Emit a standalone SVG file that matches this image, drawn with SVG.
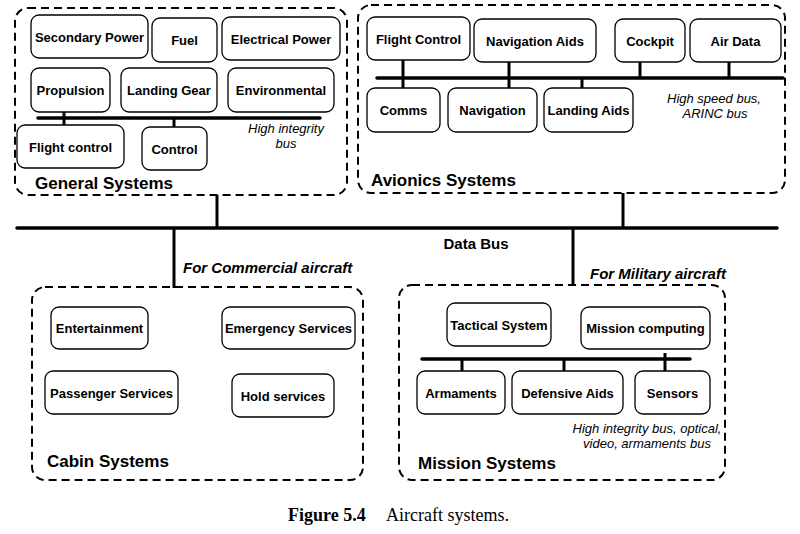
<svg xmlns="http://www.w3.org/2000/svg" width="800" height="534" viewBox="0 0 800 534">
<style>
.panel{fill:none;stroke:#000;stroke-width:2;stroke-dasharray:8 5}
.box{fill:#fff;stroke:#000;stroke-width:1.3}
.lbl{font-family:"Liberation Sans",Arial,sans-serif;font-weight:bold;font-size:13px;text-anchor:middle;fill:#000}
.ttl{font-family:"Liberation Sans",Arial,sans-serif;font-weight:bold;font-size:17px;fill:#000}
.it{font-family:"Liberation Sans",Arial,sans-serif;font-style:italic;font-size:13px;text-anchor:middle;fill:#000}
.bi{font-family:"Liberation Sans",Arial,sans-serif;font-style:italic;font-weight:bold;font-size:15px;fill:#000}
.bus{stroke:#000;stroke-width:3.5;fill:none;stroke-linecap:round}
.stub{stroke:#000;stroke-width:3;fill:none}
</style>
<rect width="800" height="534" fill="#fff"/>

<g id="connectors">
  <line class="bus" x1="17" y1="228" x2="777" y2="228"/>
  <line class="stub" x1="217" y1="195" x2="217" y2="228"/>
  <line class="stub" x1="623" y1="193" x2="623" y2="228"/>
  <line class="stub" x1="174" y1="228" x2="174" y2="288"/>
  <line class="stub" x1="573" y1="228" x2="573" y2="286"/>
  <!-- general bus -->
  <line class="bus" x1="38" y1="118" x2="320" y2="118" stroke-width="3"/>
  <line class="stub" x1="64" y1="112" x2="64" y2="126"/>
  <line class="stub" x1="174" y1="118" x2="174" y2="127"/>
  <!-- avionics bus -->
  <line class="bus" x1="377" y1="78" x2="783" y2="78" stroke-width="3"/>
  <line class="stub" x1="403" y1="60" x2="403" y2="88"/>
  <line class="stub" x1="509" y1="62" x2="509" y2="89"/>
  <line class="stub" x1="582" y1="78" x2="582" y2="88"/>
  <line class="stub" x1="640" y1="62" x2="640" y2="78"/>
  <line class="stub" x1="729" y1="62" x2="729" y2="78"/>
  <!-- mission bus -->
  <line class="bus" x1="422" y1="359" x2="690" y2="359" stroke-width="3"/>
  <line class="stub" x1="462" y1="359" x2="462" y2="371"/>
  <line class="stub" x1="564" y1="359" x2="564" y2="371"/>
  <line class="stub" x1="665" y1="353" x2="665" y2="371"/>
</g>

<g id="general-systems">
  <rect class="panel" x="15" y="8" width="332" height="187" rx="13"/>
  <text class="ttl" x="35" y="189">General Systems</text>
  <text class="it" x="286" y="133">High integrity</text>
  <text class="it" x="286" y="148">bus</text>
</g>
<g id="secondary-power"><rect class="box" x="31" y="15" width="117" height="43" rx="8"/><text class="lbl" x="89.5" y="41.5">Secondary Power</text></g>
<g id="fuel"><rect class="box" x="152" y="18" width="65" height="44" rx="8"/><text class="lbl" x="184.5" y="44.5">Fuel</text></g>
<g id="electrical-power"><rect class="box" x="222" y="17" width="118" height="43" rx="8"/><text class="lbl" x="281" y="43.5">Electrical Power</text></g>
<g id="propulsion"><rect class="box" x="31" y="68" width="79" height="44" rx="8"/><text class="lbl" x="70.5" y="94.5">Propulsion</text></g>
<g id="landing-gear"><rect class="box" x="121" y="68" width="96" height="44" rx="8"/><text class="lbl" x="169" y="94.5">Landing Gear</text></g>
<g id="environmental"><rect class="box" x="228" y="68" width="106" height="44" rx="8"/><text class="lbl" x="281" y="94.5">Environmental</text></g>
<g id="flight-control-gen"><rect class="box" x="17" y="125" width="107" height="43" rx="8"/><text class="lbl" x="70.5" y="151.5">Flight control</text></g>
<g id="control"><rect class="box" x="142" y="127" width="65" height="43" rx="8"/><text class="lbl" x="174.5" y="153.5">Control</text></g>

<g id="avionics-systems">
  <rect class="panel" x="358" y="5" width="427" height="188" rx="13"/>
  <text class="ttl" x="371" y="186">Avionics Systems</text>
  <text class="it" x="714" y="103">High speed bus,</text>
  <text class="it" x="715" y="118">ARINC bus</text>
</g>
<g id="flight-control-av"><rect class="box" x="367" y="17" width="103" height="43" rx="8"/><text class="lbl" x="418.5" y="43.5">Flight Control</text></g>
<g id="navigation-aids"><rect class="box" x="474" y="19" width="122" height="43" rx="8"/><text class="lbl" x="535" y="45.5">Navigation Aids</text></g>
<g id="cockpit"><rect class="box" x="615" y="19" width="70" height="43" rx="8"/><text class="lbl" x="650" y="45.5">Cockpit</text></g>
<g id="air-data"><rect class="box" x="690" y="19" width="91" height="43" rx="8"/><text class="lbl" x="735.5" y="45.5">Air Data</text></g>
<g id="comms"><rect class="box" x="367" y="88" width="73" height="44" rx="8"/><text class="lbl" x="403.5" y="114.5">Comms</text></g>
<g id="navigation"><rect class="box" x="448" y="88" width="89" height="44" rx="8"/><text class="lbl" x="492.5" y="114.5">Navigation</text></g>
<g id="landing-aids"><rect class="box" x="544" y="88" width="89" height="44" rx="8"/><text class="lbl" x="588.5" y="114.5">Landing Aids</text></g>

<g id="data-bus-labels">
  <text class="lbl" x="476" y="249" font-size="15" style="font-size:15px">Data Bus</text>
  <text class="bi" x="183" y="273">For Commercial aircraft</text>
  <text class="bi" x="590" y="279">For Military aircraft</text>
</g>

<g id="cabin-systems">
  <rect class="panel" x="32" y="287" width="331" height="193" rx="13"/>
  <text class="ttl" x="47" y="467">Cabin Systems</text>
</g>
<g id="entertainment"><rect class="box" x="51" y="307" width="97" height="42" rx="8"/><text class="lbl" x="99.5" y="332.5">Entertainment</text></g>
<g id="emergency-services"><rect class="box" x="222" y="307" width="133" height="42" rx="8"/><text class="lbl" x="288.5" y="332.5">Emergency Services</text></g>
<g id="passenger-services"><rect class="box" x="45" y="371" width="133" height="43" rx="8"/><text class="lbl" x="111.5" y="397.5">Passenger Services</text></g>
<g id="hold-services"><rect class="box" x="232" y="374" width="102" height="43" rx="8"/><text class="lbl" x="283" y="400.5">Hold services</text></g>

<g id="mission-systems">
  <rect class="panel" x="399" y="285" width="326" height="195" rx="13"/>
  <text class="ttl" x="418" y="469">Mission Systems</text>
  <text class="it" x="647" y="433">High integrity bus, optical,</text>
  <text class="it" x="647" y="448">video, armaments bus</text>
</g>
<g id="tactical-system"><rect class="box" x="447" y="303" width="104" height="43" rx="8"/><text class="lbl" x="499" y="329.5">Tactical System</text></g>
<g id="mission-computing"><rect class="box" x="581" y="307" width="129" height="42" rx="8"/><text class="lbl" x="645.5" y="332.5">Mission computing</text></g>
<g id="armaments"><rect class="box" x="417" y="371" width="88" height="43" rx="8"/><text class="lbl" x="461" y="397.5">Armaments</text></g>
<g id="defensive-aids"><rect class="box" x="512" y="371" width="111" height="43" rx="8"/><text class="lbl" x="567.5" y="397.5">Defensive Aids</text></g>
<g id="sensors"><rect class="box" x="635" y="371" width="75" height="43" rx="8"/><text class="lbl" x="672.5" y="397.5">Sensors</text></g>

<g id="caption" font-family="'Liberation Serif','Times New Roman',serif" font-size="18">
  <text x="288" y="521" font-weight="bold">Figure 5.4</text>
  <text x="386" y="521">Aircraft systems.</text>
</g>
</svg>
